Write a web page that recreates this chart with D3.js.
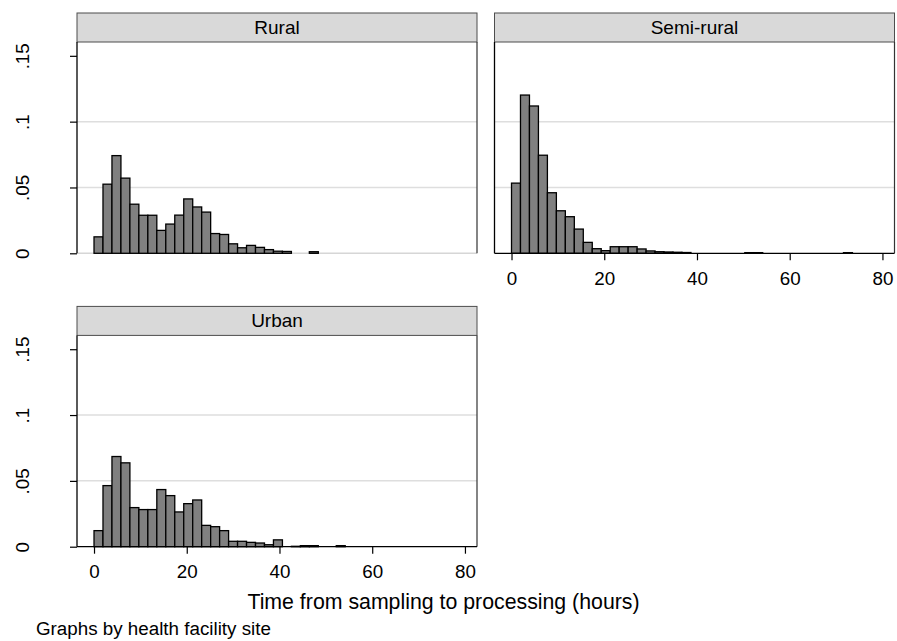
<!DOCTYPE html>
<html>
<head>
<meta charset="utf-8">
<script src="https://cdn.jsdelivr.net/npm/d3@7"></script>
<style>
  html, body { margin: 0; padding: 0; background: #ffffff; }
  svg { display: block; font-family: "Liberation Sans", Arial, sans-serif; }
</style>
</head>
<body>
<svg id="chart" width="897" height="641"></svg>
<script>
// Facility sites shown as separate panels
const categories = ["Rural", "Semi-rural", "Urban"];

// Histogram densities per bin (bins start at 0 h, shared width across sites)
const binWidth = 1.935;
const ruralDensity = [
  0.0125, 0.0525, 0.0742, 0.0571, 0.0373, 0.0289, 0.0289, 0.0174, 0.0222, 0.0290,
  0.0413, 0.0352, 0.0313, 0.0150, 0.0143, 0.0072, 0.0042, 0.0060, 0.0045, 0.0028,
  0.0016, 0.0014, 0, 0, 0.0012
];
const semiRuralDensity = [
  0.0533, 0.1202, 0.1119, 0.0745, 0.0460, 0.0323, 0.0278, 0.0184, 0.0083, 0.0035,
  0.0020, 0.0050, 0.0050, 0.0050, 0.0033, 0.0018, 0.0012, 0.0010, 0.0008, 0.0006,
  0, 0, 0, 0, 0, 0, 0.0005, 0.0005, 0, 0,
  0, 0, 0, 0, 0, 0, 0, 0.0005
];
const urbanDensity = [
  0.0122, 0.0464, 0.0685, 0.0637, 0.0297, 0.0282, 0.0282, 0.0434, 0.0388, 0.0264,
  0.0327, 0.0355, 0.0162, 0.0152, 0.0122, 0.0041, 0.0041, 0.0033, 0.0028, 0.0015,
  0.0052, 0, 0.0003, 0.0008, 0.0008, 0, 0, 0.0008
];
const densities = [ruralDensity, semiRuralDensity, urbanDensity];

// Axis ticks and labels
const xTicks = [0, 20, 40, 60, 80];
const yTicks = [0, 0.05, 0.1, 0.15];
const yTickLabels = ["0", ".05", ".1", ".15"];
const gridValues = [0.05, 0.1];
const xTitle = "Time from sampling to processing (hours)";
const note = "Graphs by health facility site";

const svg = d3.select("#chart");

// Panel geometry
const panelW = 400, headerH = 29, plotH = 211.3;
const panels = [
  { name: categories[0], data: densities[0], x: 77,    y: 13,    yLabels: true,  xAxis: false },
  { name: categories[1], data: densities[1], x: 494.5, y: 13,    yLabels: false, xAxis: true  },
  { name: categories[2], data: densities[2], x: 77,    y: 306.4, yLabels: true,  xAxis: true  }
];

const x = d3.scaleLinear().domain([-3.67, 82.6]).range([0, panelW]);
const y = d3.scaleLinear().domain([0, 0.1605]).range([plotH, 0]);

panels.forEach(p => {
  const g = svg.append("g").attr("transform", `translate(${p.x},${p.y})`);

  // header strip
  g.append("rect")
    .attr("x", 0).attr("y", 0).attr("width", panelW).attr("height", headerH)
    .attr("fill", "#d9d9d9").attr("stroke", "#4d4d4d").attr("stroke-width", 1);
  g.append("text")
    .attr("x", panelW / 2).attr("y", headerH / 2 + 6.3)
    .attr("text-anchor", "middle").attr("font-size", 19).attr("fill", "#000")
    .text(p.name);

  const plot = g.append("g").attr("transform", `translate(0,${headerH})`);

  // grid
  plot.selectAll("line.grid").data(gridValues).join("line")
    .attr("class", "grid")
    .attr("x1", 0).attr("x2", panelW)
    .attr("y1", d => y(d)).attr("y2", d => y(d))
    .attr("stroke", "#dedede").attr("stroke-width", 1.5);

  if (!p.xAxis) {
    plot.append("line")
      .attr("x1", 0).attr("x2", panelW).attr("y1", y(0)).attr("y2", y(0))
      .attr("stroke", "#d6d6d6").attr("stroke-width", 1.5);
  }

  // right border of the plot region
  plot.append("line")
    .attr("x1", panelW).attr("x2", panelW).attr("y1", 0).attr("y2", y(0))
    .attr("stroke", "#333").attr("stroke-width", 1.2);

  // histogram bars
  plot.selectAll("rect.bar")
    .data(p.data.map((v, i) => ({ x0: i * binWidth, x1: (i + 1) * binWidth, v })).filter(d => d.v > 0))
    .join("rect")
    .attr("class", "bar")
    .attr("x", d => x(d.x0)).attr("width", d => x(d.x1) - x(d.x0))
    .attr("y", d => y(d.v)).attr("height", d => y(0) - y(d.v))
    .attr("fill", "#808080").attr("stroke", "#000").attr("stroke-width", 1.3);

  // y axis
  const yAxis = d3.axisLeft(y).tickValues(yTicks)
    .tickSize(p.yLabels ? 7 : 0)
    .tickFormat((d, i) => p.yLabels ? yTickLabels[i] : "");
  const ya = plot.append("g").call(yAxis);
  ya.select(".domain").attr("stroke", "#000").attr("stroke-width", 1.3).attr("d", `M0,0V${plotH}`);
  ya.selectAll(".tick line").attr("stroke", "#000").attr("stroke-width", 1.2);
  ya.selectAll(".tick text")
    .attr("x", null).attr("dy", null)
    .attr("transform", "translate(-47.7,0) rotate(-90)")
    .attr("text-anchor", "middle")
    .attr("font-size", 18.8).attr("font-family", "Liberation Sans, Arial, sans-serif")
    .attr("fill", "#000");

  // x axis
  if (p.xAxis) {
    const xAxis = d3.axisBottom(x).tickValues(xTicks).tickSize(7).tickFormat(d3.format("d"));
    const xa = plot.append("g").attr("transform", `translate(0,${plotH})`).call(xAxis);
    xa.select(".domain").attr("stroke", "#000").attr("stroke-width", 1.3).attr("d", `M0,0H${panelW}`);
    xa.selectAll(".tick line").attr("stroke", "#000").attr("stroke-width", 1.2);
    xa.selectAll(".tick text")
      .attr("y", 31.7).attr("dy", null)
      .attr("font-size", 18.8).attr("font-family", "Liberation Sans, Arial, sans-serif")
      .attr("fill", "#000");
  }
});

// overall x title and note
svg.append("text")
  .attr("x", 443.5).attr("y", 609.3)
  .attr("text-anchor", "middle").attr("font-size", 21.3).attr("fill", "#000")
  .text(xTitle);
svg.append("text")
  .attr("x", 36).attr("y", 635)
  .attr("font-size", 18.8).attr("fill", "#000")
  .text(note);
</script>
</body>
</html>
